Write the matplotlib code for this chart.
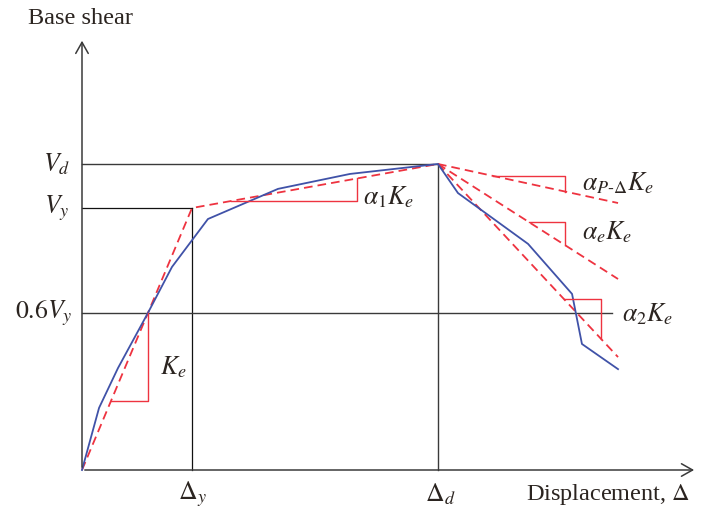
import matplotlib
matplotlib.use("Agg")
import matplotlib.pyplot as plt
import numpy as np

plt.rcParams['font.family'] = ['Liberation Serif', 'DejaVu Serif']
plt.rcParams['mathtext.fontset'] = 'stix'

# key levels (normalised: Vy = 1, delta_y = 1)
Vy = 1.0
Vd = 1.168
dy = 1.0
dd = 3.236
x_end = 4.873

# pushover curve (blue)
curve_x = [0, 0.155, 0.327, 0.6, 0.818, 1.145, 1.782, 2.436, 3.236, 3.418, 4.055, 4.455, 4.545, 4.873]
curve_y = [0, 0.237, 0.389, 0.6, 0.775, 0.958, 1.073, 1.130, 1.168, 1.057, 0.863, 0.672, 0.481, 0.385]

# bilinear idealisation (red dashed)
bil_x = [0, dy, dd]
bil_y = [0, Vy, Vd]

# post-peak slopes, end values at x_end
post_names = ['pd', 'e', '2']
post_end_y = [1.019, 0.729, 0.431]

# slope triangles: (x start, x corner)
tri_ke = (0.264, 0.6)
tri_a1 = (1.355, 2.5)
tri_post = [(3.736, 4.391), (4.064, 4.391), (4.382, 4.718)]

x_06 = 4.818      # end of 0.6Vy line
x_axis_end = 5.59
y_axis_end = 1.649

red = '#ee3340'
blue = '#4052a8'
txt = '#2b2420'
gray = '#3a3a3a'

fig = plt.figure(figsize=(7.01, 5.09), dpi=100)
ax = fig.add_axes([0, 0, 1, 1])
ax.set_xlim((0 - 82) / 110, (701 - 82) / 110)
ax.set_ylim((470 - 509) / 262, 470 / 262)
ax.axis('off')

# axes with open arrow heads
arr = dict(arrowstyle='->,head_length=0.8,head_width=0.45', color=gray, lw=1.1)
ax.annotate('', xy=(x_axis_end, 0), xytext=(0, 0), arrowprops=arr)
ax.annotate('', xy=(0, y_axis_end), xytext=(0, 0), arrowprops=arr)

# reference lines
ax.plot([0, dd], [Vd, Vd], color=gray, lw=1.0)
ax.plot([dd, dd], [0, Vd], color=gray, lw=1.0)
ax.plot([0, dy], [Vy, Vy], color='#111111', lw=0.9)
ax.plot([dy, dy], [0, Vy], color='#111111', lw=0.9)
ax.plot([0, x_06], [0.6 * Vy, 0.6 * Vy], color=gray, lw=1.0)

dash = dict(color=red, lw=1.3, dashes=(4.8, 2.8))
ax.plot(bil_x, bil_y, **dash)
for ye in post_end_y:
    ax.plot([dd, x_end], [Vd, ye], **dash)

ax.plot(curve_x, curve_y, color=blue, lw=1.3)


def seg_y(x0, y0, x1, y1, x):
    return y0 + (y1 - y0) * (x - x0) / (x1 - x0)


def triangle(xa, xb, x0, y0, x1, y1):
    ya = seg_y(x0, y0, x1, y1, xa)
    yb = seg_y(x0, y0, x1, y1, xb)
    ax.plot([xa, xb, xb], [ya, ya, yb], color=red, lw=1.0)


triangle(*tri_ke, 0, 0, dy, Vy)
triangle(*tri_a1, dy, Vy, dd, Vd)
for (xa, xb), ye in zip(tri_post, post_end_y):
    triangle(xa, xb, dd, Vd, x_end, ye)

fs = 17.5
ms = 18.5
ax.text(-0.49, 1.725, 'Base shear', fontsize=fs, color=txt, ha='left', va='center')
ax.text(-0.11, Vd, '$V_d$', fontsize=ms, color=txt, ha='right', va='center')
ax.text(-0.11, Vy, '$V_y$', fontsize=ms, color=txt, ha='right', va='center')
ax.text(-0.09, 0.6 * Vy, '$0.6V_y$', fontsize=ms, color=txt, ha='right', va='center')
ax.text(dy, -0.092, r'$\Delta_y$', fontsize=ms, color=txt, ha='center', va='center')
ax.text(dd + 0.02, -0.092, r'$\Delta_d$', fontsize=ms, color=txt, ha='center', va='center')
ax.text(5.527, -0.092, r'Displacement, $\Delta$', fontsize=fs, color=txt, ha='right', va='center')
ax.text(0.709, 0.393, '$K_e$', fontsize=ms, color=txt, ha='left', va='center')
ax.text(2.555, 1.042, r'$\alpha_1K_e$', fontsize=ms, color=txt, ha='left', va='center')
ax.text(4.545, 1.095, r'$\alpha_{P\text{-}\Delta}K_e$', fontsize=ms, color=txt, ha='left', va='center')
ax.text(4.545, 0.908, r'$\alpha_eK_e$', fontsize=ms, color=txt, ha='left', va='center')
ax.text(4.909, 0.595, r'$\alpha_2K_e$', fontsize=ms, color=txt, ha='left', va='center')

fig.savefig('out.png', dpi=100)
